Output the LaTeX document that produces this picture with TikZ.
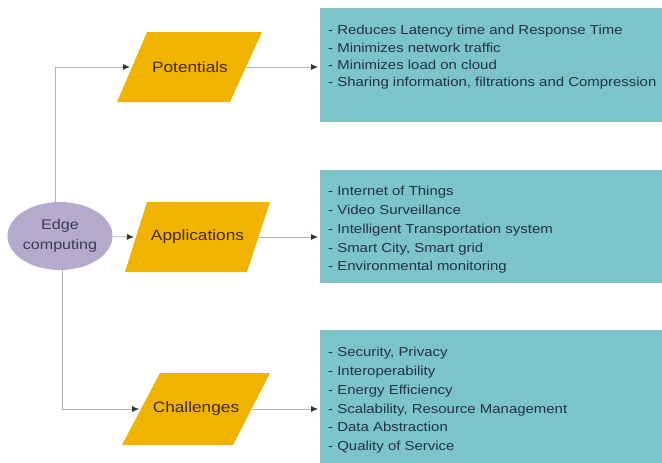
\documentclass[tikz,border=0pt]{standalone}
\usepackage{fontspec}
\setmainfont[FakeStretch=1.15]{Liberation Sans}
\usetikzlibrary{shapes.geometric,arrows.meta}
\definecolor{parafill}{RGB}{240,180,0}
\definecolor{paratext}{RGB}{70,40,10}
\definecolor{tealfill}{RGB}{124,196,204}
\definecolor{tealdraw}{RGB}{150,185,195}
\definecolor{ellfill}{RGB}{180,170,205}
\definecolor{elltext}{RGB}{60,60,75}
\definecolor{linegray}{RGB}{180,180,180}
\definecolor{boxtext}{RGB}{35,50,65}
\begin{document}
\begin{tikzpicture}[x=1pt,y=-1pt,
  parashape/.style={fill=parafill, draw=none},
  paralabel/.style={inner sep=0pt, font=\fontsize{15}{17}\selectfont, text=paratext},
  ell/.style={ellipse, fill=ellfill, draw=none, minimum width=105pt, minimum height=68pt,
    inner sep=0pt, align=center, text=elltext, font=\fontsize{14}{20}\selectfont},
  tbox/.style={rectangle, fill=tealfill, draw=tealdraw, line width=0.6pt, anchor=north west, inner sep=0pt},
  btext/.style={anchor=north west, inner sep=0pt, align=left, text=boxtext},
  conn/.style={draw=linegray, line width=0.8pt, shorten >=2pt,
    -{Latex[length=7pt,width=6pt,color=black!80]}}
]
\useasboundingbox (0,0) rectangle (662,463);

\node[ell] (edge) at (60,236) {Edge\\computing};

% Potentials
\fill[parashape] (117,102) -- (230,102) -- (262,32) -- (147,32) -- cycle;
\coordinate (potW) at (132,67);
\coordinate (potE) at (246,67);
\node[paralabel] (pot) at (190,67) {Potentials};
% Applications
\fill[parashape] (125,272) -- (247,272) -- (270,202) -- (147,202) -- cycle;
\coordinate (appW) at (136,237);
\coordinate (appE) at (258.5,237);
\node[paralabel] (app) at (197.5,237) {Applications};
% Challenges
\fill[parashape] (122,445) -- (233,445) -- (270,373) -- (160,373) -- cycle;
\coordinate (chalW) at (141,409);
\coordinate (chalE) at (251.5,409);
\node[paralabel] (chal) at (196,409) {Challenges};

\node[tbox, minimum width=343pt, minimum height=113pt] (b1) at (320,8) {};
\node[tbox, minimum width=343pt, minimum height=112pt] (b2) at (320,170) {};
\node[tbox, minimum width=343pt, minimum height=134pt] (b3) at (320,330) {};

\node[btext, font=\fontsize{13}{17.3}\selectfont] (t1) at (328,25.3)
  {- Reduces Latency time and Response Time\\- Minimizes network traffic\\- Minimizes load on cloud\\- Sharing information, filtrations and Compression};
\node[btext, font=\fontsize{13}{18.8}\selectfont] (t2) at (328,186)
  {- Internet of Things\\- Video Surveillance\\- Intelligent Transportation system\\- Smart City, Smart grid\\- Environmental monitoring};
\node[btext, font=\fontsize{13}{18.8}\selectfont] (t3) at (328,347)
  {- Security, Privacy\\- Interoperability\\- Energy Efficiency\\- Scalability, Resource Management\\- Data Abstraction\\- Quality of Service};

\draw[conn] ([xshift=-5pt]edge.north) |- (potW);
\draw[conn] (edge) -- (appW);
\draw[conn] ([xshift=2pt]edge.south) |- (chalW);
\draw[conn] (potE) -- (potE -| b1.west);
\draw[conn] (appE) -- (appE -| b2.west);
\draw[conn] (chalE) -- (chalE -| b3.west);
\end{tikzpicture}
\end{document}
